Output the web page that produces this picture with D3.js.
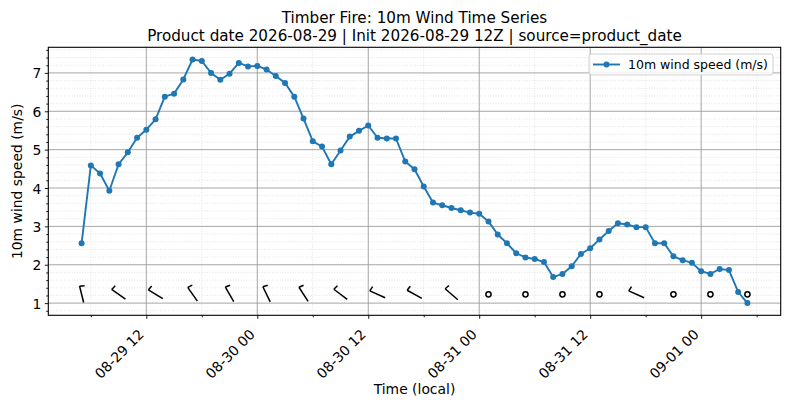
<!DOCTYPE html>
<html><head><meta charset="utf-8">
<script src="https://cdn.jsdelivr.net/npm/d3@7"></script>
<style>
body{margin:0;background:#fff}
text{font-family:"DejaVu Sans",sans-serif;fill:#000}
</style>
</head><body>
<svg id="c" width="790" height="409"></svg>
<script>
// ---- data ----
const titleLines = ["Timber Fire: 10m Wind Time Series",
  "Product date 2026-08-29 | Init 2026-08-29 12Z | source=product_date"];
const xLabel = "Time (local)";
const yLabel = "10m wind speed (m/s)";
const seriesName = "10m wind speed (m/s)";
const startTime = "2026-08-29T05:00:00Z";   // first hourly sample
const windSpeed = [2.56,4.59,4.38,3.93,4.62,4.93,5.31,5.52,5.79,6.38,6.46,6.83,7.35,7.31,7.00,6.82,6.98,7.26,7.17,7.18,
  7.09,6.92,6.74,6.38,5.81,5.22,5.08,4.62,4.98,5.34,5.49,5.63,5.31,5.29,5.29,4.69,4.49,4.04,3.62,3.55,
  3.48,3.42,3.36,3.33,3.13,2.79,2.56,2.30,2.19,2.15,2.07,1.68,1.76,1.96,2.28,2.43,2.66,2.88,3.08,3.05,
  2.98,2.98,2.56,2.56,2.22,2.12,2.05,1.83,1.76,1.89,1.86,1.29,1.00];
const barbEvery = 4;      // hours between barbs
const barbLevel = 1.23;   // y position of barbs
// wind direction (deg, from) for each barb; null = calm circle
const barbDir = [346,305,301,325,330,334,327,307,294,299,311,null,null,null,null,294,null,null,null];
const yTicks = [1,2,3,4,5,6,7];

// ---- layout ----
const W = 790, H = 409;
const m = {l:48.3, r:9.3, t:47.3, b:93.7};
const svg = d3.select("#c");
const t0 = new Date(startTime);
const times = windSpeed.map((_, i) => d3.utcHour.offset(t0, i));
const data = times.map((t, i) => ({t, v: windSpeed[i]}));

const tExt = d3.extent(times), tPad = (tExt[1] - tExt[0]) * 0.05;
const x = d3.scaleUtc()
  .domain([new Date(+tExt[0] - tPad), new Date(+tExt[1] + tPad)])
  .range([m.l, W - m.r]);
const vExt = d3.extent(windSpeed), vPad = (vExt[1] - vExt[0]) * 0.05;
const y = d3.scaleLinear().domain([vExt[0] - vPad, vExt[1] + vPad]).range([H - m.b, m.t]);

const x0 = m.l, x1 = W - m.r, y0 = H - m.b, y1 = m.t;

// minor ticks
const xMajor = x.ticks(d3.utcHour.every(12));
const xMinor = x.ticks(d3.utcHour.every(6)).filter(d => d.getUTCHours() % 12 !== 0);
const yMinor = d3.range(Math.ceil(y.domain()[0] * 5), Math.floor(y.domain()[1] * 5) + 1)
  .map(k => k / 5).filter(v => Math.abs(v - Math.round(v)) > 1e-6);

// grid
const g = svg.append("g");
g.selectAll(".ymn").data(yMinor).join("line")
  .attr("x1", x0).attr("x2", x1).attr("y1", d => y(d)).attr("y2", d => y(d))
  .attr("stroke", "#d0d0d0").attr("stroke-width", 0.6).attr("stroke-dasharray", "1,1.6");
g.selectAll(".xmn").data(xMinor).join("line")
  .attr("y1", y0).attr("y2", y1).attr("x1", d => x(d)).attr("x2", d => x(d))
  .attr("stroke", "#d0d0d0").attr("stroke-width", 0.6).attr("stroke-dasharray", "1,1.6");
g.selectAll(".ymj").data(yTicks).join("line")
  .attr("x1", x0).attr("x2", x1).attr("y1", d => y(d)).attr("y2", d => y(d))
  .attr("stroke", "#9c9c9c").attr("stroke-width", 0.9);
g.selectAll(".xmj").data(xMajor).join("line")
  .attr("y1", y0).attr("y2", y1).attr("x1", d => x(d)).attr("x2", d => x(d))
  .attr("stroke", "#9c9c9c").attr("stroke-width", 0.9);

// series
const lineGen = d3.line().x(d => x(d.t)).y(d => y(d.v));
svg.append("path").datum(data).attr("d", lineGen)
  .attr("fill", "none").attr("stroke", "#1f77b4").attr("stroke-width", 1.9).attr("stroke-linejoin", "round");
svg.append("g").selectAll("circle").data(data).join("circle")
  .attr("cx", d => x(d.t)).attr("cy", d => y(d.v)).attr("r", 3).attr("fill", "#1f77b4");

// barbs
const bg = svg.append("g").attr("stroke", "#000").attr("stroke-width", 1.5).attr("fill", "none").attr("stroke-linecap", "butt");
barbDir.forEach((dir, k) => {
  const t = times[k * barbEvery];
  const cx = x(t), cy = y(barbLevel);
  if (dir === null) {
    bg.append("circle").attr("cx", cx).attr("cy", cy).attr("r", 2.6);
    return;
  }
  const a = dir * Math.PI / 180;
  const ux = Math.sin(a), uy = -Math.cos(a);
  const hl = 8.4;
  const ex = cx + hl * ux, ey = cy + hl * uy;
  bg.append("line").attr("x1", cx - hl * ux).attr("y1", cy - hl * uy).attr("x2", ex).attr("y2", ey);
  const px = -uy, py = ux;
  bg.append("line").attr("x1", ex).attr("y1", ey)
    .attr("x2", ex + 5 * px - 0.8 * ux).attr("y2", ey + 5 * py - 0.8 * uy);
});

// axes
const fs = 13.9;
svg.append("g").attr("transform", `translate(0,${y0})`)
  .call(d3.axisBottom(x).tickValues(xMajor).tickSize(3.5).tickFormat(""));
svg.append("g").attr("transform", `translate(0,${y0})`)
  .call(d3.axisBottom(x).tickValues(xMinor).tickSize(2).tickFormat(""));
const yAxis = svg.append("g").attr("transform", `translate(${x0},0)`)
  .call(d3.axisLeft(y).tickValues(yTicks).tickSize(3.5).tickPadding(3.5).tickFormat(d3.format("d")));
svg.append("g").attr("transform", `translate(${x0},0)`)
  .call(d3.axisLeft(y).tickValues(yMinor).tickSize(2).tickFormat(""));
svg.selectAll(".domain").remove();
svg.selectAll(".tick line").attr("stroke", "#000").attr("stroke-width", 0.9);
yAxis.selectAll("text").attr("font-size", fs).attr("font-family", "DejaVu Sans").attr("dy", "0.36em");

const fmt = d3.utcFormat("%m-%d %H");
svg.append("g").selectAll("text").data(xMajor).join("text")
  .attr("transform", d => `translate(${x(d) - 1.5},${y0 + 20}) rotate(-45)`)
  .attr("text-anchor", "end").attr("font-size", fs).text(d => fmt(d));

// frame
svg.append("rect").attr("x", x0).attr("y", y1).attr("width", x1 - x0).attr("height", y0 - y1)
  .attr("fill", "none").attr("stroke", "#000").attr("stroke-width", 1.1);

// labels
svg.append("text").attr("x", (x0 + x1) / 2).attr("y", 394).attr("text-anchor", "middle")
  .attr("font-size", fs).text(xLabel);
svg.append("text").attr("transform", `translate(22,${(y0 + y1) / 2}) rotate(-90)`)
  .attr("text-anchor", "middle").attr("font-size", fs).text(yLabel);
titleLines.forEach((s, i) => {
  svg.append("text").attr("x", (x0 + x1) / 2).attr("y", 22.5 + i * 18.2).attr("text-anchor", "middle")
    .attr("font-size", 15.2).text(s);
});

// legend
const lg = svg.append("g");
lg.append("rect").attr("x", 589).attr("y", 54).attr("width", 184).attr("height", 21).attr("rx", 2.5)
  .attr("fill", "#fff").attr("fill-opacity", 0.8).attr("stroke", "#cccccc").attr("stroke-width", 0.9);
lg.append("line").attr("x1", 593).attr("x2", 620).attr("y1", 64.5).attr("y2", 64.5)
  .attr("stroke", "#1f77b4").attr("stroke-width", 1.9);
lg.append("circle").attr("cx", 606.5).attr("cy", 64.5).attr("r", 3).attr("fill", "#1f77b4");
lg.append("text").attr("x", 628).attr("y", 64.5).attr("dy", "0.36em").attr("font-size", 12.5).text(seriesName);
</script>
</body></html>
